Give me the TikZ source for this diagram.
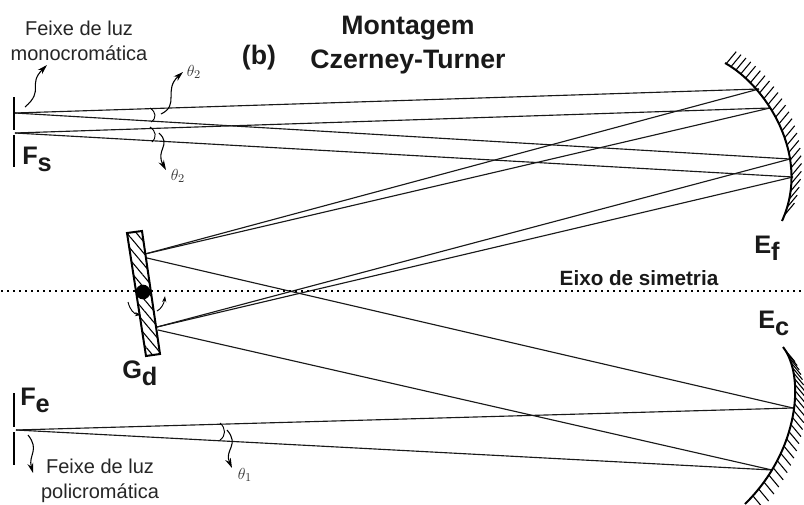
\documentclass[tikz,border=0pt]{standalone}
\usepackage{fontspec}
\setmainfont{Liberation Sans}
\usetikzlibrary{arrows.meta, patterns.meta}

\newcommand{\lowered}[1]{\raisebox{-5.8pt}{#1}}

\begin{document}
\begin{tikzpicture}[x=0.75pt, y=-0.75pt, every node/.style={inner sep=0pt},
  ray/.style={line width=0.85pt, draw=black!90},
  slit/.style={line width=1.3pt},
  mirror/.style={line width=1.5pt},
  hatch/.style={line width=0.8pt},
  wavy/.style={line width=0.8pt, -{Stealth[length=7.5pt,width=4.5pt]}},
  thin arc/.style={line width=0.7pt},
  small label/.style={font=\fontsize{15}{18.8}\selectfont, align=center, text=black!85},
  big label/.style={font=\fontsize{20}{26}\selectfont\bfseries, align=center, text=black!90},
  mark label/.style={font=\fontsize{19}{21}\selectfont\bfseries, text=black!90, anchor=base west},
  angle label/.style={text=black!80, font=\fontsize{13}{15}\selectfont}]

  \useasboundingbox (0,0) rectangle (804,504);
  \fill[white] (0,0) rectangle (804,504);

  % Texts
  \node[small label] (mono) at (79,41) {Feixe de luz\\monocromática};
  \node[small label] (poli) at (100,481) {Feixe de luz\\policromática};
  \node[big label] (title) at (408,45) {Montagem\\Czerney-Turner};
  \node[big label] (b) at (259,58) {(b)};
  \node[big label, font=\fontsize{15.5}{18}\selectfont\bfseries] (eixo) at (639,278) {Eixo de simetria};
  \node[mark label] (Fs) at (22,164) {F\lowered{s}};
  \node[mark label] (Fe) at (20,405) {F\lowered{e}};
  \node[mark label] (Gd) at (122,378) {G\lowered{d}};
  \node[mark label] (Ef) at (754,253) {E\lowered{f}};
  \node[mark label] (Ec) at (758,328) {E\lowered{c}};
  \node[angle label] (th2a) at (194,72) {$\theta_2$};
  \node[angle label] (th2b) at (178,176) {$\theta_2$};
  \node[angle label] (th1) at (245,475) {$\theta_1$};

  % Ray end points
  \coordinate (s1) at (15,113);
  \coordinate (s2) at (15,133);
  \coordinate (e0) at (16,430);
  \coordinate (g1) at (145,254);
  \coordinate (g2) at (157,327);
  \coordinate (g3) at (147,258);
  \coordinate (g4) at (158,330);
  \coordinate (f1) at (759,89);
  \coordinate (f2) at (770,108);
  \coordinate (f3) at (790,159);
  \coordinate (f4) at (793,177);
  \coordinate (c1) at (793,408);
  \coordinate (c2) at (772,470);

  % Slits
  \draw[slit] (14,97) -- (14,130);
  \draw[slit] (14,135) -- (14,167);
  \draw[slit] (14,393) -- (14,427);
  \draw[slit] (14,432) -- (14,465);

  % Rays
  \path[ray]
    (s1) edge (f1)
    (s1) edge (f3)
    (s2) edge (f2)
    (s2) edge (f4)
    (g1) edge (f1)
    (g1) edge (f2)
    (g2) edge (f3)
    (g2) edge (f4)
    (g3) edge (c1)
    (g4) edge (c2)
    (e0) edge (c1)
    (e0) edge (c2);

  % Symmetry axis
  \draw[line width=0.8pt, dash pattern=on 1.5pt off 3pt] (1,291) -- (804,291);

  % Mirrors
  \draw[mirror] (725,63) .. controls (765,85) and (812,155) .. (782,221);
  \foreach \t in {0.01,0.05,...,0.99} {
    \path (725,63) .. controls (765,85) and (812,155) .. (782,221) coordinate[pos=\t] (h);
    \draw[hatch] (h) -- ++(10,-12);
  }
  \draw[mirror] (783,347) .. controls (805,375) and (800,450) .. (745,504);
  \foreach \t in {0.03,0.07,...,0.99} {
    \path (783,347) .. controls (805,375) and (800,450) .. (745,504) coordinate[pos=\t] (h);
    \draw[hatch] (h) -- ++(10,12);
  }

  % Grating
  \draw[line width=1.5pt, pattern={Lines[angle=-50,distance=5.5pt,line width=0.8pt]}]
    (127,233) -- (142,231) -- (160,354) -- (146,356) -- cycle;
  \node[circle, fill=black, minimum size=11pt] (pivot) at (143,292) {};
  \draw[thin arc, -{Stealth[length=4.5pt,width=3pt]}] (128,302) .. controls (130,310) and (134,314) .. (141,315);
  \draw[thin arc, -{Stealth[length=4.5pt,width=3pt]}] (157,311) .. controls (161,309) and (164,304) .. (165,296);

  % Angle marks
  \draw[thin arc] (150,108) .. controls (156,112) and (157,118) .. (151,122);
  \draw[thin arc] (150,127) .. controls (156,131) and (157,137) .. (152,142);
  \draw[thin arc] (220,423) .. controls (226,428) and (226,436) .. (220,440);

  % Wavy arrows
  \draw[wavy] (25,107) .. controls (45,90) and (27,85) .. (47,65);
  \draw[wavy] (161,114) .. controls (180,105) and (163,90) .. (183,72);
  \draw[wavy] (159,133) .. controls (172,145) and (155,150) .. (166,170);
  \draw[wavy] (28,435) .. controls (40,450) and (28,455) .. (33,473);
  \draw[wavy] (227,430) .. controls (240,445) and (224,450) .. (232,468);
\end{tikzpicture}
\end{document}
